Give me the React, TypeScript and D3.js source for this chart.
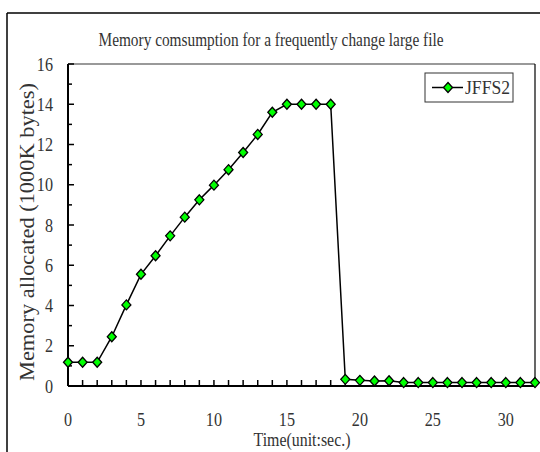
import React from 'react';
import * as d3 from 'd3';

const times = [0, 1, 2, 3, 4, 5, 6, 7, 8, 9, 10, 11, 12, 13, 14, 15, 16, 17, 18, 19, 20, 21, 22, 23, 24, 25, 26, 27, 28, 29, 30, 31, 32];
const memory = [1.18, 1.18, 1.18, 2.45, 4.03, 5.55, 6.47, 7.46, 8.39, 9.25, 9.98, 10.75, 11.6, 12.5, 13.6, 14.0, 14.0, 14.0, 14.0, 0.33, 0.28, 0.25, 0.26, 0.17, 0.17, 0.17, 0.17, 0.17, 0.17, 0.17, 0.17, 0.17, 0.17];
const xTickLabels = [0, 5, 10, 15, 20, 25, 30];
const yTickLabels = [0, 2, 4, 6, 8, 10, 12, 14, 16];
const seriesName = 'JFFS2';

const font = "'Liberation Serif', 'Times New Roman', 'DejaVu Serif', serif";

const App = () => {
    const left = 68;
    const right = 535;
    const top = 64;
    const bottom = 386;

    const xScale = d3.scaleLinear().domain([0, 32]).range([left, right]);
    const yScale = d3.scaleLinear().domain([0, 16]).range([bottom, top]);

    const line = d3.line<number>()
        .x((d, i) => xScale(times[i]))
        .y(d => yScale(d));

    const diamond = (cx: number, cy: number) =>
        `M${cx},${cy - 5}L${cx + 4.5},${cy}L${cx},${cy + 5}L${cx - 4.5},${cy}Z`;

    const xMinor = d3.range(0, 33, 1);
    const yMinor = d3.range(0, 17, 1);

    const txt = { fontFamily: font, fill: '#333' };

    return (
        <svg width={540} height={452} style={{ position: 'absolute', left: 0, top: 0, background: '#fff' }}>
            {/* outer frame (top and left edges only visible) */}
            <line x1={7} y1={13} x2={540} y2={13} stroke="#000" strokeWidth={1.5} />
            <line x1={7} y1={13} x2={7} y2={452} stroke="#000" strokeWidth={1.5} />

            <text x={271} y={46} style={txt} fontSize={18} textAnchor="middle"
                textLength={345} lengthAdjust="spacingAndGlyphs">
                Memory comsumption for a frequently change large file
            </text>

            {/* plot border */}
            <line x1={left} y1={top} x2={right} y2={top} stroke="#777" strokeWidth={1.5} />
            <line x1={right} y1={top} x2={right} y2={bottom} stroke="#000" strokeWidth={1.2} />

            {/* y ticks */}
            {yMinor.map(v => (
                <line key={'yt' + v} x1={left} x2={left + (v % 2 === 0 ? 6 : 4)}
                    y1={yScale(v)} y2={yScale(v)} stroke="#000" strokeWidth={1.5} />
            ))}
            {yTickLabels.map(v => (
                <text key={'yl' + v} transform={`translate(53, ${yScale(v) + 6.5}) scale(0.85, 1)`}
                    style={txt} fontSize={19} textAnchor="end">{v}</text>
            ))}

            {/* x ticks */}
            {xMinor.map(v => (
                <line key={'xt' + v} x1={xScale(v)} x2={xScale(v)} y1={bottom} y2={bottom - 6}
                    stroke="#000" strokeWidth={1.5} />
            ))}
            {xTickLabels.map(v => (
                <text key={'xl' + v} transform={`translate(${xScale(v)}, 426) scale(0.85, 1)`}
                    style={txt} fontSize={19} textAnchor="middle">{v}</text>
            ))}

            {/* axes */}
            <line x1={left} y1={top} x2={left} y2={bottom} stroke="#000" strokeWidth={2} />
            <line x1={left} y1={bottom} x2={right} y2={bottom} stroke="#000" strokeWidth={2} />

            <text x={302} y={446} style={txt} fontSize={18} textAnchor="middle"
                textLength={97} lengthAdjust="spacingAndGlyphs">Time(unit:sec.)</text>
            <text transform={`translate(34, 232) rotate(-90)`} style={txt} fontSize={20}
                textAnchor="middle" textLength={298} lengthAdjust="spacingAndGlyphs">
                Memory allocated (1000K bytes)
            </text>

            {/* series */}
            <path d={line(memory) || ''} fill="none" stroke="#000" strokeWidth={1.5} />
            {memory.map((v, i) => (
                <path key={'m' + i} d={diamond(xScale(times[i]), yScale(v))}
                    fill="#00ff00" stroke="#000" strokeWidth={1.3} />
            ))}

            {/* legend */}
            <rect x={425} y={73} width={88} height={29} fill="#fff" stroke="#333" strokeWidth={1} />
            <line x1={432} x2={463} y1={87.5} y2={87.5} stroke="#000" strokeWidth={1.5} />
            <path d={diamond(448, 87.5)} fill="#00ff00" stroke="#000" strokeWidth={1.3} />
            <text x={465} y={94} style={txt} fontSize={18} textLength={45}
                lengthAdjust="spacingAndGlyphs">{seriesName}</text>
        </svg>
    );
};

export default App;
